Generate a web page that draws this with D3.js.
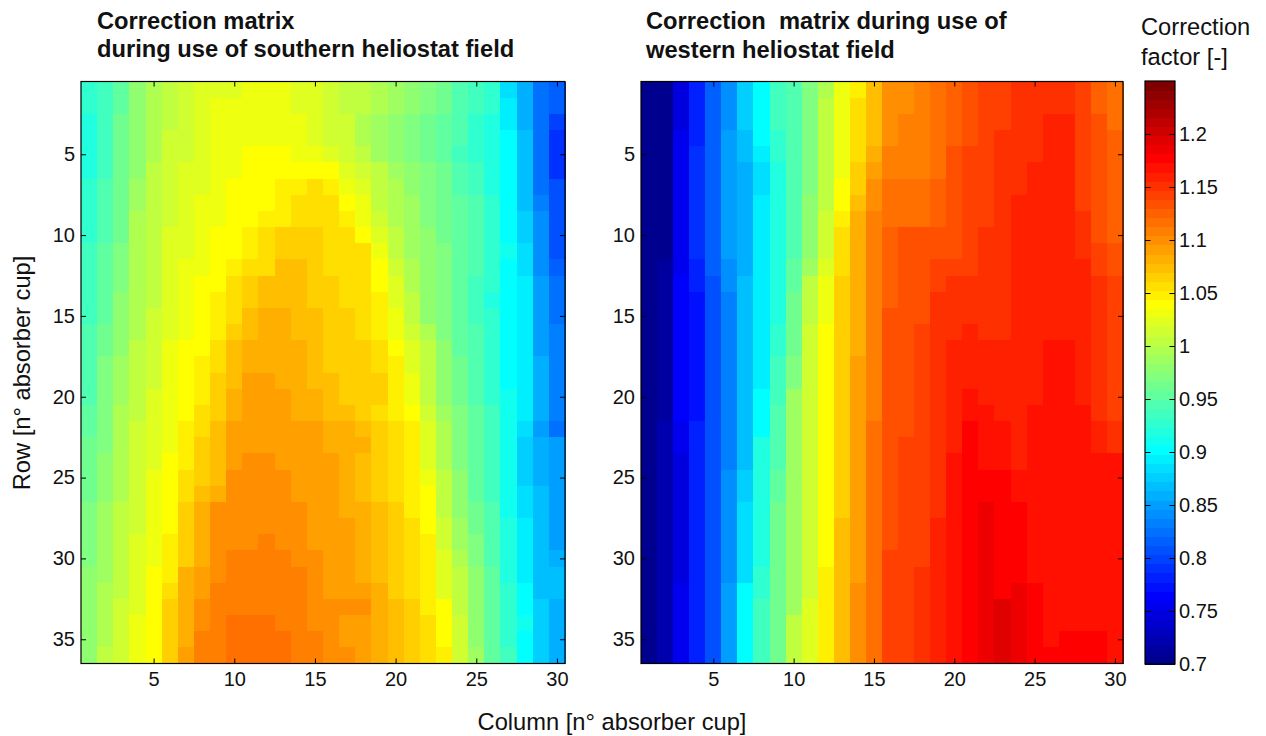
<!DOCTYPE html>
<html>
<head>
<meta charset="utf-8">
<script src="https://cdn.jsdelivr.net/npm/d3@7"></script>
<style>
body { margin: 0; background: #fff; }
text { font-family: "Liberation Sans", sans-serif; fill: #111; white-space: pre; }
</style>
</head>
<body>
<script>
// correction factor x 1000
// southern field, one array per row
const southRows = [
[928,936,954,979,997,1005,1014,1022,1022,1022,1031,1031,1031,1022,1022,1014,1005,1005,997,988,979,971,962,945,936,928,885,859,825,816],
[928,936,954,979,997,1005,1014,1022,1031,1031,1031,1031,1031,1022,1022,1014,1005,1005,997,988,979,971,962,945,936,928,893,859,825,816],
[919,936,962,979,997,1005,1014,1022,1031,1031,1031,1031,1031,1031,1022,1014,1014,997,988,979,971,962,954,945,928,919,893,859,825,799],
[919,936,962,979,997,1014,1014,1022,1031,1031,1031,1031,1031,1031,1022,1014,1014,997,988,979,971,962,954,945,928,919,902,868,825,790],
[919,936,962,979,997,1014,1014,1022,1031,1031,1040,1040,1040,1031,1031,1022,1014,1005,988,979,971,962,954,936,928,919,902,868,825,790],
[919,936,962,979,1005,1014,1022,1022,1031,1031,1040,1040,1040,1040,1040,1040,1022,1014,1005,988,979,971,962,945,936,919,902,868,825,790],
[928,945,962,988,1005,1014,1022,1022,1031,1040,1040,1040,1048,1048,1057,1048,1031,1022,1005,997,979,971,962,945,936,919,902,868,825,808],
[928,945,962,988,1005,1014,1022,1031,1031,1040,1040,1040,1048,1057,1057,1057,1040,1031,1005,997,988,971,962,954,945,928,902,868,833,808],
[928,945,962,997,1005,1014,1022,1031,1031,1040,1040,1048,1048,1057,1057,1057,1048,1031,1014,997,988,971,962,954,945,928,902,876,842,808],
[928,945,962,997,1005,1022,1022,1031,1040,1040,1048,1057,1065,1065,1065,1057,1057,1040,1022,1005,988,979,962,954,945,928,902,876,842,808],
[936,954,971,997,1005,1022,1022,1031,1040,1040,1048,1057,1065,1065,1065,1057,1057,1057,1031,1005,988,979,971,954,945,928,911,885,842,808],
[936,954,971,997,1005,1022,1031,1031,1040,1048,1057,1057,1074,1074,1065,1057,1057,1057,1040,1014,997,979,971,954,945,928,902,885,842,816],
[936,954,971,997,1005,1022,1031,1040,1040,1057,1065,1074,1074,1074,1065,1065,1057,1057,1040,1022,997,979,971,954,936,928,902,893,851,825],
[936,954,979,997,1005,1022,1031,1040,1048,1057,1065,1074,1074,1074,1065,1065,1057,1057,1048,1022,1005,979,971,954,936,919,902,893,851,825],
[936,954,979,997,1014,1022,1031,1040,1048,1057,1074,1083,1083,1074,1074,1065,1065,1057,1048,1031,1005,979,971,954,936,928,902,893,851,825],
[945,962,979,997,1014,1022,1031,1040,1048,1065,1074,1083,1083,1074,1074,1065,1065,1057,1048,1031,1014,997,971,954,945,928,902,893,851,833],
[945,962,979,1005,1014,1031,1040,1040,1057,1074,1083,1083,1083,1083,1074,1065,1065,1065,1057,1040,1022,1005,979,954,945,928,902,893,851,833],
[945,971,988,1005,1014,1031,1040,1048,1057,1074,1083,1083,1083,1083,1074,1065,1065,1065,1057,1048,1022,1005,979,962,945,928,902,893,859,833],
[945,971,988,1005,1014,1031,1040,1048,1065,1074,1091,1091,1083,1083,1074,1074,1065,1065,1065,1048,1031,1005,979,962,945,928,902,893,859,833],
[945,971,988,1005,1022,1031,1040,1048,1065,1083,1091,1091,1091,1083,1083,1074,1065,1065,1065,1048,1031,1005,979,962,945,928,911,893,859,833],
[954,971,997,1005,1022,1031,1040,1057,1065,1083,1091,1091,1091,1083,1083,1074,1074,1065,1057,1048,1040,1014,988,971,954,936,911,893,859,833],
[954,971,997,1014,1022,1031,1048,1057,1074,1091,1091,1091,1091,1091,1091,1083,1083,1074,1065,1057,1048,1022,997,971,954,936,911,885,851,825],
[962,971,997,1014,1022,1031,1048,1065,1074,1091,1091,1091,1091,1091,1091,1083,1083,1083,1065,1057,1048,1022,997,971,954,936,911,876,859,851],
[962,979,997,1014,1022,1040,1048,1065,1074,1091,1100,1100,1091,1091,1091,1091,1083,1074,1065,1057,1048,1022,997,971,954,936,911,876,859,851],
[962,979,997,1014,1031,1040,1057,1065,1074,1100,1100,1100,1100,1091,1091,1091,1083,1074,1065,1057,1048,1031,1005,979,954,936,911,876,859,851],
[962,979,997,1014,1031,1040,1057,1074,1083,1100,1100,1100,1100,1091,1091,1091,1083,1074,1065,1057,1048,1040,1005,979,954,936,911,885,868,851],
[971,988,1005,1014,1031,1040,1065,1083,1100,1100,1100,1100,1100,1100,1091,1091,1083,1083,1074,1065,1048,1040,1005,979,962,945,911,885,868,851],
[971,988,1005,1014,1031,1040,1065,1083,1100,1100,1100,1100,1100,1100,1091,1091,1091,1083,1074,1065,1057,1040,1014,988,962,945,919,893,868,851],
[971,988,1005,1022,1031,1048,1065,1083,1100,1100,1100,1108,1100,1100,1091,1091,1091,1083,1074,1065,1057,1048,1014,988,971,945,919,893,868,851],
[971,988,1005,1022,1031,1048,1065,1083,1100,1108,1108,1108,1108,1100,1100,1091,1091,1083,1074,1065,1057,1048,1022,997,971,945,919,893,868,859],
[979,988,1005,1022,1040,1048,1083,1091,1100,1108,1108,1108,1108,1108,1100,1091,1091,1083,1074,1065,1057,1048,1022,1005,979,954,919,893,868,868],
[979,997,1005,1022,1040,1057,1083,1091,1108,1108,1108,1108,1108,1108,1100,1091,1091,1091,1083,1065,1057,1048,1022,1005,979,954,928,902,868,868],
[979,997,1014,1022,1040,1065,1083,1100,1108,1108,1108,1108,1108,1108,1100,1100,1100,1100,1083,1074,1065,1048,1040,1005,979,954,928,902,876,859],
[979,997,1014,1031,1040,1065,1083,1100,1108,1117,1117,1117,1108,1108,1100,1100,1091,1091,1083,1074,1065,1057,1040,1014,979,954,928,911,876,859],
[979,997,1014,1031,1040,1065,1083,1108,1108,1117,1117,1117,1117,1108,1108,1100,1091,1091,1083,1074,1065,1057,1040,1014,979,954,928,902,876,859],
[979,1005,1014,1031,1040,1065,1091,1108,1108,1117,1117,1117,1117,1108,1108,1100,1100,1091,1083,1074,1065,1057,1048,1014,988,954,936,902,876,859]
];

// western field, one array per column
const westColumns = [
[700,700,700,700,700,700,700,700,700,700,700,700,700,700,700,700,700,700,700,700,700,700,700,700,700,700,700,700,700,700,700,700,700,700,700,700],
[704,704,704,704,704,704,704,704,704,704,704,713,713,713,713,713,713,713,713,713,713,721,721,721,721,721,721,721,721,721,721,721,721,721,721,721],
[747,747,747,756,756,756,756,756,756,756,756,756,765,765,765,765,765,765,765,765,765,756,756,747,747,747,747,747,747,747,747,756,756,756,756,756],
[782,782,782,782,790,790,790,790,790,790,790,782,782,773,773,773,773,773,773,773,773,782,782,782,782,782,782,782,782,782,782,782,782,782,782,782],
[816,816,816,816,816,816,816,816,816,816,816,816,808,808,808,808,808,808,808,808,808,808,808,808,808,808,808,808,808,808,808,808,808,808,808,808],
[842,842,842,851,851,851,851,851,851,851,851,842,842,833,833,833,833,833,833,833,833,833,833,833,842,842,842,842,842,842,842,851,851,851,851,851],
[876,876,876,868,868,859,859,859,859,859,859,859,868,868,868,868,868,868,868,868,868,868,868,868,876,876,885,885,885,885,885,902,902,902,902,902],
[902,902,902,902,893,885,885,893,893,893,893,893,893,893,893,893,893,893,893,902,902,902,919,919,919,919,919,919,919,919,928,928,936,936,936,936],
[936,936,936,928,928,919,919,919,919,919,919,919,919,919,919,928,928,936,936,936,945,945,945,945,954,954,962,962,962,962,962,962,962,962,962,962],
[945,945,945,945,945,945,945,945,945,945,945,954,954,962,962,962,962,971,971,988,988,988,988,988,988,988,988,988,988,988,988,988,988,1005,1005,1005],
[971,971,971,971,971,971,971,979,979,979,979,988,1005,1005,1005,1014,1014,1014,1014,1014,1014,1014,1014,1014,1014,1014,1014,1014,1014,1014,1014,1014,1022,1022,1022,1022],
[997,1005,1005,1005,1005,1005,1005,1005,1014,1014,1014,1022,1031,1031,1031,1040,1040,1040,1040,1040,1040,1040,1040,1040,1040,1040,1040,1040,1040,1040,1048,1048,1048,1048,1048,1048],
[1031,1031,1031,1031,1031,1031,1040,1040,1048,1057,1057,1057,1065,1065,1065,1065,1065,1065,1065,1065,1065,1065,1065,1065,1065,1065,1065,1074,1074,1074,1074,1074,1074,1074,1074,1074],
[1048,1057,1057,1057,1057,1065,1065,1074,1083,1083,1083,1083,1083,1083,1083,1083,1083,1091,1091,1091,1091,1091,1091,1091,1091,1091,1091,1091,1091,1091,1091,1100,1100,1100,1100,1100],
[1074,1074,1074,1074,1083,1091,1100,1100,1108,1108,1108,1108,1108,1108,1108,1108,1108,1108,1108,1108,1108,1117,1117,1117,1117,1117,1117,1117,1117,1117,1117,1117,1117,1117,1117,1117],
[1100,1100,1100,1100,1108,1108,1117,1117,1117,1126,1126,1126,1126,1126,1134,1134,1134,1134,1134,1134,1134,1134,1134,1134,1134,1134,1134,1134,1134,1143,1143,1143,1143,1143,1143,1143],
[1100,1100,1108,1108,1108,1108,1117,1117,1117,1134,1134,1134,1134,1134,1134,1134,1134,1134,1134,1134,1134,1134,1143,1143,1143,1143,1143,1143,1143,1143,1143,1143,1143,1143,1143,1143],
[1108,1108,1108,1108,1108,1108,1117,1117,1117,1134,1134,1134,1134,1134,1134,1143,1143,1143,1143,1143,1143,1143,1143,1143,1143,1143,1143,1143,1143,1143,1151,1151,1151,1151,1151,1151],
[1117,1117,1117,1117,1117,1117,1126,1126,1126,1134,1134,1143,1143,1151,1151,1151,1151,1151,1151,1151,1151,1151,1151,1151,1151,1151,1151,1160,1160,1160,1160,1160,1160,1160,1160,1160],
[1126,1126,1126,1126,1134,1134,1134,1134,1134,1134,1134,1143,1151,1151,1151,1151,1160,1160,1160,1160,1160,1160,1160,1169,1169,1169,1169,1169,1169,1169,1169,1169,1169,1169,1169,1169],
[1134,1134,1134,1134,1143,1143,1143,1143,1143,1143,1143,1143,1151,1151,1151,1160,1160,1160,1160,1169,1169,1177,1177,1177,1177,1177,1177,1177,1177,1177,1177,1177,1177,1177,1177,1177],
[1143,1143,1143,1143,1143,1143,1143,1143,1143,1151,1151,1151,1151,1151,1151,1151,1160,1160,1160,1160,1169,1169,1169,1169,1177,1177,1186,1186,1186,1186,1186,1186,1186,1186,1186,1186],
[1143,1143,1143,1151,1151,1151,1151,1151,1151,1151,1151,1151,1151,1151,1151,1151,1160,1160,1160,1160,1160,1169,1169,1169,1177,1177,1177,1177,1177,1177,1177,1177,1194,1194,1194,1194],
[1151,1151,1151,1151,1151,1151,1151,1160,1160,1160,1160,1160,1160,1160,1160,1160,1160,1160,1160,1160,1160,1160,1160,1160,1169,1169,1177,1177,1177,1177,1177,1186,1186,1186,1186,1186],
[1151,1151,1151,1151,1151,1160,1160,1160,1160,1160,1160,1160,1160,1160,1160,1160,1160,1160,1160,1160,1169,1169,1169,1169,1169,1169,1169,1169,1169,1169,1169,1177,1177,1177,1177,1177],
[1151,1151,1160,1160,1160,1160,1160,1160,1160,1160,1160,1160,1160,1160,1160,1160,1169,1169,1169,1169,1169,1169,1169,1169,1169,1169,1169,1169,1169,1169,1169,1169,1169,1169,1169,1177],
[1151,1151,1160,1160,1160,1160,1160,1160,1160,1160,1160,1160,1160,1160,1160,1160,1169,1169,1169,1169,1169,1169,1169,1169,1169,1169,1169,1169,1169,1169,1169,1169,1169,1169,1177,1177],
[1143,1143,1143,1143,1143,1143,1143,1143,1151,1151,1151,1160,1160,1160,1160,1160,1160,1160,1160,1160,1169,1169,1169,1169,1169,1169,1169,1169,1169,1169,1169,1169,1169,1169,1177,1177],
[1126,1126,1134,1134,1134,1134,1134,1134,1134,1134,1143,1143,1151,1151,1151,1151,1151,1151,1151,1151,1151,1160,1160,1169,1169,1169,1169,1169,1169,1169,1169,1169,1169,1169,1177,1177],
[1117,1117,1117,1126,1126,1126,1126,1126,1126,1126,1134,1134,1143,1143,1143,1143,1143,1143,1143,1143,1143,1151,1151,1169,1169,1169,1169,1169,1169,1169,1169,1169,1169,1169,1169,1169]
];

const xTicks = [5, 10, 15, 20, 25, 30];
const yTicks = [5, 10, 15, 20, 25, 30, 35];
const barTicks = [0.7, 0.75, 0.8, 0.85, 0.9, 0.95, 1, 1.05, 1.1, 1.15, 1.2];
const barDomain = [0.7, 1.25];

const plotTop = 81.5, plotBottom = 663.5;

var svg = d3.select("body").append("svg")
  .attr("width", 1266)
  .attr("height", 736);

// matlab jet colormap, 64 steps
var jet = d3.range(1, 65).map(function(k) {
  var r = k <= 24 ? 0 : k <= 40 ? (k - 24) / 16 : k <= 56 ? 1 : 1 - (k - 56) / 16;
  var g = k <= 8 ? 0 : k <= 24 ? (k - 8) / 16 : k <= 40 ? 1 : k <= 56 ? 1 - (k - 40) / 16 : 0;
  var b = k <= 8 ? 0.5 + k / 16 : k <= 24 ? 1 : k <= 40 ? 1 - (k - 24) / 16 : 0;
  return d3.rgb(r * 255, g * 255, b * 255).formatHex();
});

var color = d3.scaleQuantize().domain(barDomain).range(jet);

function heatmap(matrix, left, right) {
  var x = d3.scaleLinear().domain([0.5, 30.5]).range([left, right]);
  var y = d3.scaleLinear().domain([0.5, 36.5]).range([plotTop, plotBottom]);
  var g = svg.append("g");

  var cells = [];
  matrix.forEach(function(row, r) {
    row.forEach(function(v, c) {
      cells.push({ row: r + 1, col: c + 1, value: v / 1000 });
    });
  });

  g.selectAll("rect")
    .data(cells)
    .enter().append("rect")
    .attr("shape-rendering", "crispEdges")
    .attr("x", function(d) { return x(d.col - 0.5); })
    .attr("y", function(d) { return y(d.row - 0.5); })
    .attr("width", x(1.5) - x(0.5) + 0.5)
    .attr("height", y(1.5) - y(0.5) + 0.5)
    .attr("fill", function(d) { return color(d.value); });

  g.append("rect")
    .attr("x", left).attr("y", plotTop)
    .attr("width", right - left).attr("height", plotBottom - plotTop)
    .attr("fill", "none").attr("stroke", "#000").attr("stroke-width", 1.2);

  // ticks point inward on all four sides, labels only left and bottom
  var bottomAxis = g.append("g")
    .attr("transform", "translate(0," + plotBottom + ")")
    .call(d3.axisBottom(x).tickValues(xTicks).tickSize(-5).tickSizeOuter(0).tickPadding(8.5));
  var topAxis = g.append("g")
    .attr("transform", "translate(0," + plotTop + ")")
    .call(d3.axisTop(x).tickValues(xTicks).tickSize(-5).tickSizeOuter(0).tickFormat(""));
  var leftAxis = g.append("g")
    .attr("transform", "translate(" + left + ",0)")
    .call(d3.axisLeft(y).tickValues(yTicks).tickSize(-5).tickSizeOuter(0).tickPadding(6));
  var rightAxis = g.append("g")
    .attr("transform", "translate(" + right + ",0)")
    .call(d3.axisRight(y).tickValues(yTicks).tickSize(-5).tickSizeOuter(0).tickFormat(""));

  [bottomAxis, topAxis, leftAxis, rightAxis].forEach(function(a) {
    a.select(".domain").remove();
    a.selectAll("line").attr("stroke", "#000");
    a.selectAll("text").style("font-size", "20px").attr("fill", "#111");
  });
}

heatmap(southRows, 81, 565);
heatmap(d3.transpose(westColumns), 641, 1123);

// colorbar
var barY = d3.scaleLinear().domain(barDomain).range([664, 81]);
var barStep = (barDomain[1] - barDomain[0]) / jet.length;
svg.append("g").selectAll("rect")
  .data(jet)
  .enter().append("rect")
  .attr("shape-rendering", "crispEdges")
  .attr("x", 1145)
  .attr("y", function(d, i) { return barY(barDomain[0] + (i + 1) * barStep); })
  .attr("width", 30)
  .attr("height", (664 - 81) / jet.length + 0.5)
  .attr("fill", function(d) { return d; });

svg.append("rect")
  .attr("x", 1145).attr("y", 81).attr("width", 30).attr("height", 583)
  .attr("fill", "none").attr("stroke", "#000").attr("stroke-width", 1.2);

var barAxis = svg.append("g")
  .attr("transform", "translate(1175,0)")
  .call(d3.axisRight(barY).tickValues(barTicks).tickFormat(d3.format("~g")).tickSize(0).tickPadding(4));
barAxis.select(".domain").remove();
barAxis.selectAll("text").style("font-size", "20px").attr("fill", "#111");
barAxis.selectAll(".tick").append("line").attr("x1", 0).attr("x2", -5.5).attr("stroke", "#000");
barAxis.selectAll(".tick").append("line").attr("x1", -30).attr("x2", -24.5).attr("stroke", "#000");

// titles and labels
function label(txt, x, y, weight) {
  return svg.append("text")
    .attr("x", x).attr("y", y)
    .style("font-size", "23.7px")
    .style("font-weight", weight || "normal")
    .text(txt);
}

label("Correction matrix", 97, 29, "bold");
label("during use of southern heliostat field", 97, 57, "bold");
label("Correction  matrix during use of", 646, 29, "bold");
label("western heliostat field", 646, 58, "bold");
label("Correction", 1141, 35);
label("factor [-]", 1141, 65);
label("Column [n\u00b0 absorber cup]", 612, 730).attr("text-anchor", "middle");
svg.append("text")
  .attr("transform", "translate(30,373) rotate(-90)")
  .attr("text-anchor", "middle")
  .style("font-size", "23.7px")
  .text("Row [n\u00b0 absorber cup]");
</script>
</body>
</html>
